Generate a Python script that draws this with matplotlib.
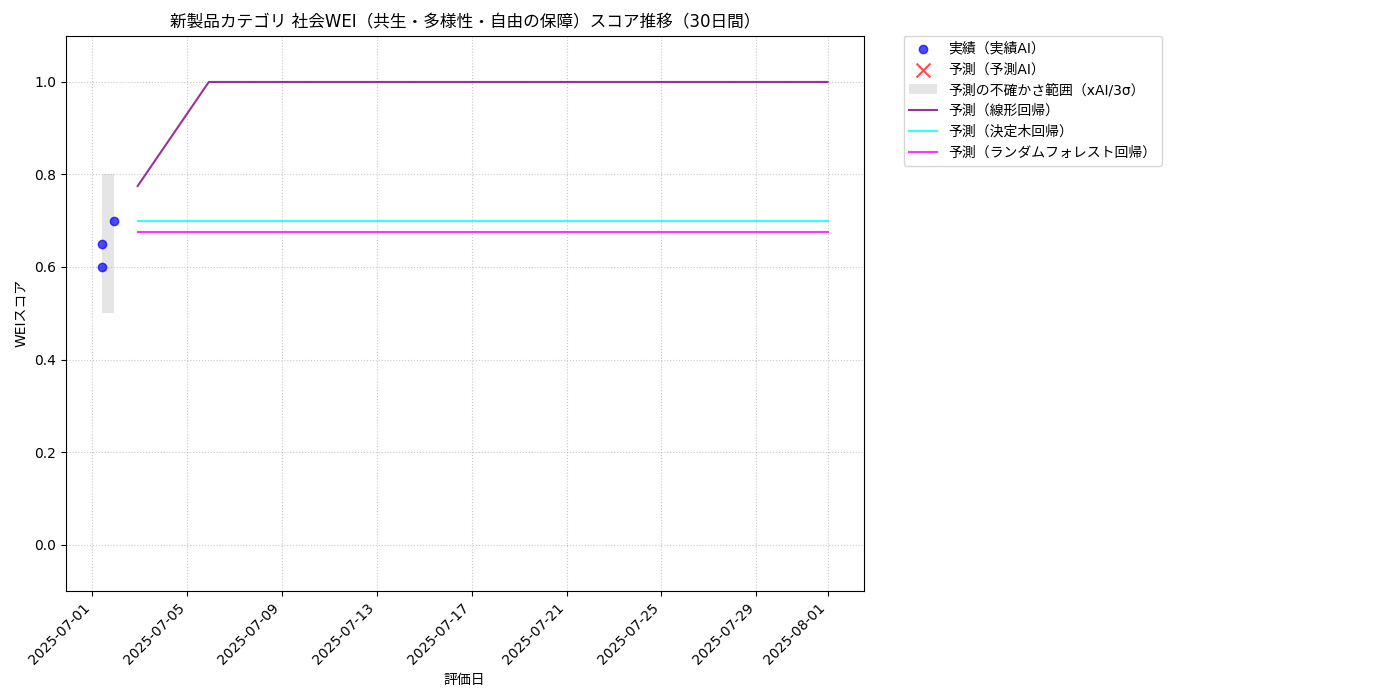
import matplotlib
matplotlib.use('Agg')
import matplotlib.pyplot as plt
import pandas as pd

plt.rcParams['font.family'] = ['DejaVu Sans', 'Noto Sans CJK JP']
plt.rcParams['axes.unicode_minus'] = False

# 実績データ
actual_dates = ['2025-07-01 10:00', '2025-07-01 10:00', '2025-07-01 22:00']
actual_scores = [0.65, 0.60, 0.70]

# 不確かさ範囲
band_dates = ['2025-07-01 10:00', '2025-07-01 22:00']
band_lower = [0.5, 0.5]
band_upper = [0.8, 0.8]

# 予測データ (30日間)
pred_dates = [
    '2025-07-02 22:00', '2025-07-03 22:00', '2025-07-04 22:00', '2025-07-05 22:00',
    '2025-07-06 22:00', '2025-07-07 22:00', '2025-07-08 22:00', '2025-07-09 22:00',
    '2025-07-10 22:00', '2025-07-11 22:00', '2025-07-12 22:00', '2025-07-13 22:00',
    '2025-07-14 22:00', '2025-07-15 22:00', '2025-07-16 22:00', '2025-07-17 22:00',
    '2025-07-18 22:00', '2025-07-19 22:00', '2025-07-20 22:00', '2025-07-21 22:00',
    '2025-07-22 22:00', '2025-07-23 22:00', '2025-07-24 22:00', '2025-07-25 22:00',
    '2025-07-26 22:00', '2025-07-27 22:00', '2025-07-28 22:00', '2025-07-29 22:00',
    '2025-07-30 22:00', '2025-08-01 00:00',
]
pred_linear = [0.775, 0.85, 0.925, 1.0, 1.0, 1.0, 1.0, 1.0, 1.0, 1.0,
               1.0, 1.0, 1.0, 1.0, 1.0, 1.0, 1.0, 1.0, 1.0, 1.0,
               1.0, 1.0, 1.0, 1.0, 1.0, 1.0, 1.0, 1.0, 1.0, 1.0]
pred_tree = [0.70, 0.70, 0.70, 0.70, 0.70, 0.70, 0.70, 0.70, 0.70, 0.70,
             0.70, 0.70, 0.70, 0.70, 0.70, 0.70, 0.70, 0.70, 0.70, 0.70,
             0.70, 0.70, 0.70, 0.70, 0.70, 0.70, 0.70, 0.70, 0.70, 0.70]
pred_forest = [0.675, 0.675, 0.675, 0.675, 0.675, 0.675, 0.675, 0.675, 0.675, 0.675,
               0.675, 0.675, 0.675, 0.675, 0.675, 0.675, 0.675, 0.675, 0.675, 0.675,
               0.675, 0.675, 0.675, 0.675, 0.675, 0.675, 0.675, 0.675, 0.675, 0.675]

actual_x = pd.to_datetime(actual_dates)
band_x = pd.to_datetime(band_dates)
pred_x = pd.to_datetime(pred_dates)

fig, ax = plt.subplots(figsize=(14, 7), dpi=100)
fig.subplots_adjust(left=0.047, right=0.617, top=0.949, bottom=0.156)

ax.scatter(actual_x, actual_scores, color='blue', alpha=0.7, label='実績（実績AI）', zorder=3)
ax.scatter([], [], color='red', marker='x', s=100, alpha=0.7, label='予測（予測AI）')
ax.fill_between(band_x, band_lower, band_upper, color='gray', alpha=0.2,
                linewidth=0, label='予測の不確かさ範囲（xAI/3σ）')
ax.plot(pred_x, pred_linear, color='purple', alpha=0.8, label='予測（線形回帰）')
ax.plot(pred_x, pred_tree, color='cyan', alpha=0.8, label='予測（決定木回帰）')
ax.plot(pred_x, pred_forest, color='magenta', alpha=0.8, label='予測（ランダムフォレスト回帰）')

ax.set_ylim(-0.1, 1.1)
ax.set_title('新製品カテゴリ 社会WEI（共生・多様性・自由の保障）スコア推移（30日間）', fontsize=12)
ax.set_xlabel('評価日')
ax.set_ylabel('WEIスコア')
ax.grid(True, linestyle=':', alpha=0.7)
plt.setp(ax.get_xticklabels(), rotation=45, ha='right')
ax.legend(loc='upper left', bbox_to_anchor=(1.05, 1), borderaxespad=0)

fig.savefig('out.png', dpi=100)
